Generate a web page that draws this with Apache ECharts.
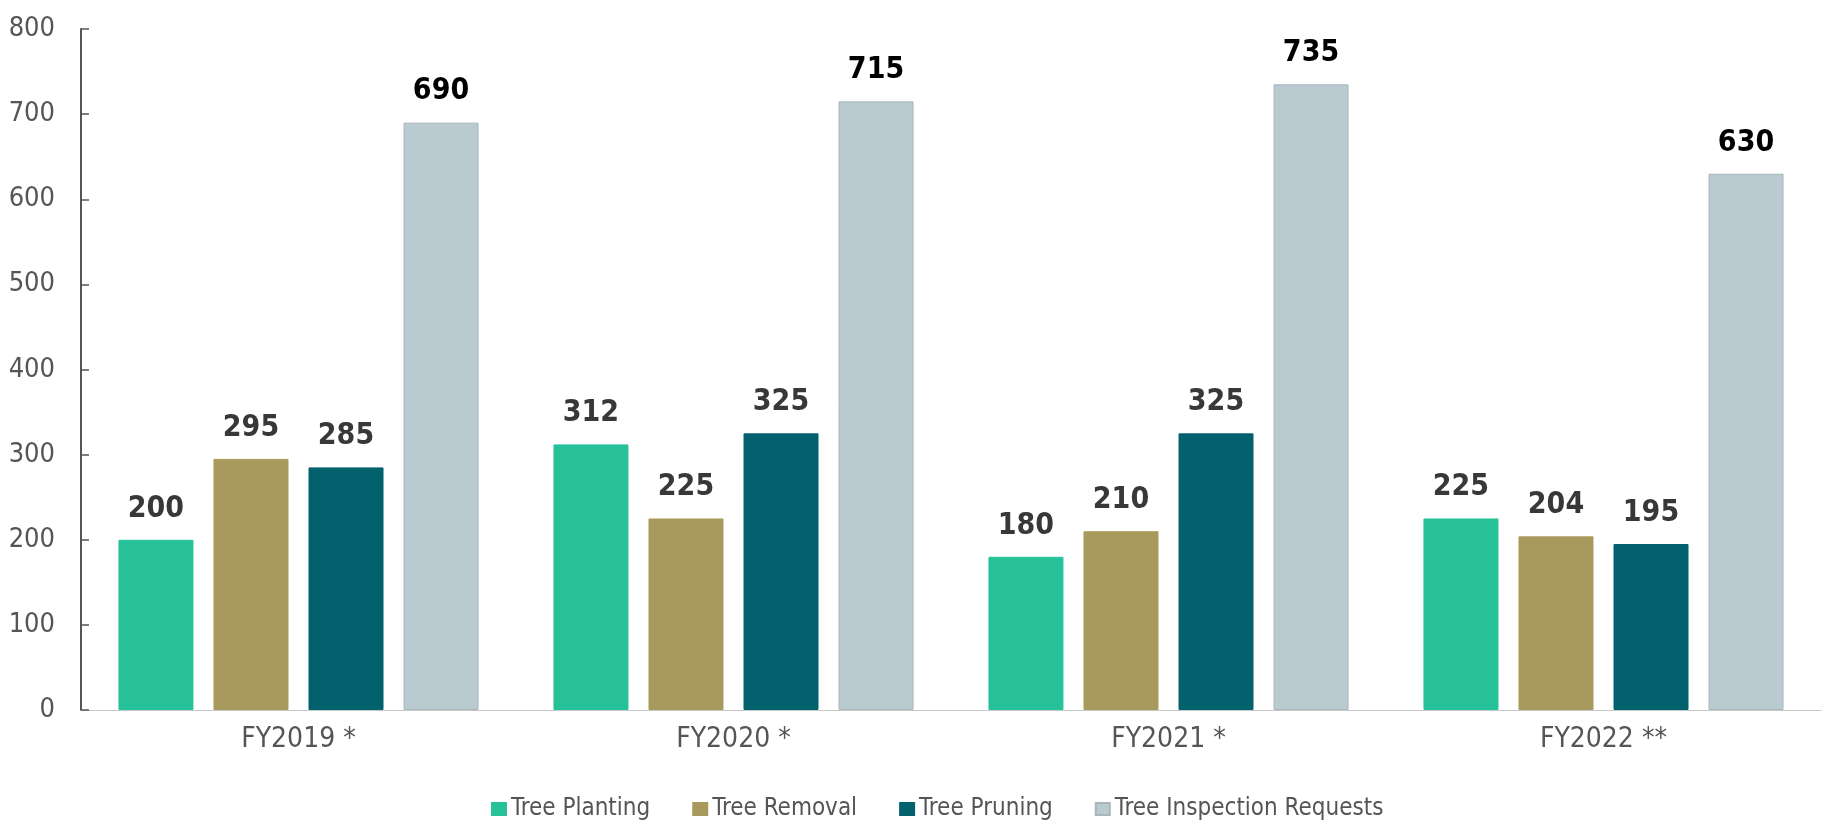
<!DOCTYPE html>
<html>
<head>
<meta charset="utf-8">
<title>Tree services</title>
<script src="https://cdn.jsdelivr.net/npm/echarts@6/dist/echarts.min.js"></script>
<style>
  html, body { margin: 0; padding: 0; background: #fff; }
  #main { width: 1824px; height: 822px; }
</style>
</head>
<body>
<div id="main"></div>
<script>
// data
const years = ['FY2019 *', 'FY2020 *', 'FY2021 *', 'FY2022 **'];
const planting = [200, 312, 180, 225];
const removal = [295, 225, 210, 204];
const pruning = [285, 325, 325, 195];
const inspection = [690, 715, 735, 630];
const seriesNames = ['Tree Planting', 'Tree Removal', 'Tree Pruning', 'Tree Inspection Requests'];

// no narrow font installed, so sizes are picked to match the widths
const FONT = '"DejaVu Sans Condensed", "Liberation Sans Narrow", sans-serif';
const colors = ['#26c198', '#a89a5c', '#03616e', '#b9cad0'];

function makeBar(name, data, i) {
  return {
    name: name,
    type: 'bar',
    data: data,
    barWidth: 75,
    barGap: '26.7%',
    itemStyle: {
      color: colors[i],
      borderColor: i === 3 ? '#a9b7bb' : colors[i],
      borderWidth: 1
    },
    label: {
      show: true,
      position: 'top',
      distance: 16,
      fontFamily: FONT,
      fontWeight: 'bold',
      fontSize: 30,
      color: i === 3 ? '#000' : '#383838'
    }
  };
}

const myChart = echarts.init(document.getElementById('main'));
myChart.setOption({
  animation: false,
  color: colors,
  grid: { left: 81, right: 3, top: 29, bottom: 112, containLabel: false },
  legend: {
    left: 486,
    top: 792,
    itemWidth: 14,
    itemHeight: 12,
    itemGap: 42,
    icon: 'rect',
    textStyle: { fontFamily: FONT, fontSize: 24, color: '#555' },
    data: seriesNames
  },
  xAxis: {
    type: 'category',
    data: years,
    axisLine: { lineStyle: { color: '#c8c8c8', width: 1 } },
    axisTick: { show: false },
    axisLabel: { fontFamily: FONT, fontSize: 28, color: '#555', margin: 16 }
  },
  yAxis: {
    type: 'value',
    min: 0,
    max: 800,
    interval: 100,
    splitLine: { show: false },
    axisLine: { show: true, lineStyle: { color: '#555', width: 2 } },
    axisTick: { show: true, inside: true, length: 8, lineStyle: { color: '#555', width: 1.5 } },
    axisLabel: { fontFamily: FONT, fontSize: 27, color: '#555', margin: 26 }
  },
  series: [
    makeBar(seriesNames[0], planting, 0),
    makeBar(seriesNames[1], removal, 1),
    makeBar(seriesNames[2], pruning, 2),
    makeBar(seriesNames[3], inspection, 3)
  ]
});
</script>
</body>
</html>
